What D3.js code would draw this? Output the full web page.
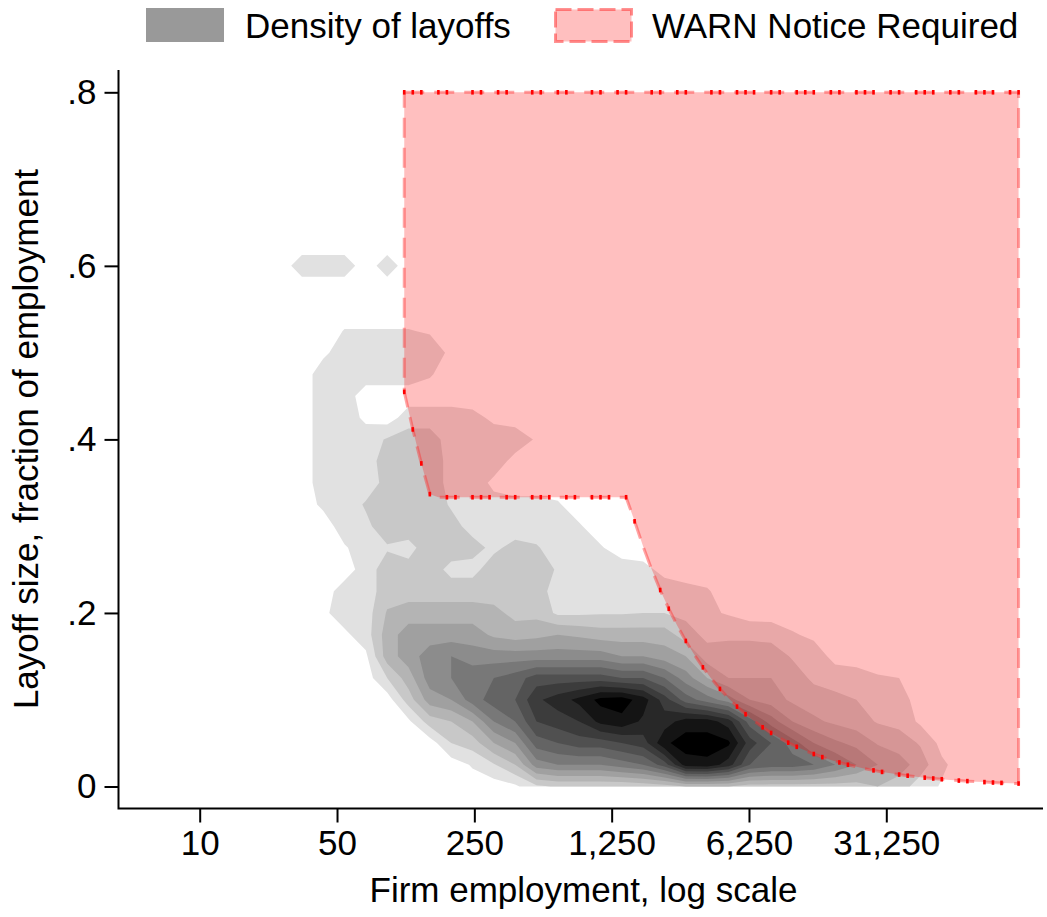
<!DOCTYPE html>
<html>
<head>
<meta charset="utf-8">
<script src="https://cdn.jsdelivr.net/npm/d3@7"></script>
<style>
  html, body { margin: 0; padding: 0; background: #ffffff; }
  svg { display: block; background: #ffffff; }
  text { font-family: "Liberation Sans", Arial, Helvetica, sans-serif; fill: #000; }
</style>
</head>
<body>
<svg id="chart" width="1047" height="917"></svg>
<script>
// ---------------- data ----------------
// density grid: columns are ln(firm employment), rows are layoff fraction
const densityLnEmployment = [3.25, 3.5, 3.75, 4, 4.25, 4.5, 4.75, 5, 5.25, 5.5, 5.75, 6, 6.25, 6.5, 6.75, 7, 7.25, 7.5, 7.75, 8, 8.25, 8.5, 8.75, 9, 9.25, 9.5, 9.75, 10, 10.25, 10.5, 10.75, 11, 11.25];
const densityFraction = [0, 0.025, 0.05, 0.075, 0.1, 0.125, 0.15, 0.175, 0.2, 0.225, 0.25, 0.275, 0.3, 0.325, 0.35, 0.375, 0.4, 0.425, 0.45, 0.475, 0.5, 0.525, 0.55, 0.575, 0.6, 0.625, 0.65];
// density level (0 = none ... 12 = darkest); rows listed from top (.65) to bottom (0); missing trailing values are 0
const densityLevelRows = [
  "",
  "",
  "0 1 1 1 0 1",
  "",
  "",
  "0 0 0 .55 .55 .55 .55 .4",
  "0 0 .3 1 1 1 1 1 .3",
  "0 0 1 1 1 1 1 .6",
  "0 0 1 1",
  "0 0 1 1 .3 0 1 1 1 .8 .3 .1",
  "0 0 1 1 1 1.6 2 2 1 1 1 1 .4",
  "0 0 1 1 1 2 2 2 1.2 1 1 .2",
  "0 0 1 1 1 1.8 2 2 1.2 1 .3",
  "0 0 .7 1 1.6 2 2 2 1.4 1 .8 .8 .8 .6",
  "0 0 0 1 1.3 2 2 2 1.8 1.2 1 1 1 1 .6",
  "0 0 0 .4 1 1.4 1.2 2 2 1.8 1.3 1.8 1.6 1 1 .6",
  "0 0 0 0 1 2 1.8 2 1.2 1.2 2 2 2 1.4 1 1 1 .8 .2",
  "0 0 0 1 1 2 2 2 2 2 2 2 2 1 1 1 1 1 1 .8 .6",
  "0 0 .3 1 1 2.6 3 3 3 3 2.8 2.2 2.2 1.3 1.3 1.4 1.4 1.5 1.5 1.2 .7 .4",
  "0 0 0 .3 1 3 4 4 4 4 3.3 3 3.2 3.5 3.3 3 3 3 3 2 1.2 1.3 1.3 1.2 .6 .3",
  "0 0 0 0 .3 3 4 5 5.5 5 5 5 5 5 5 5 4.5 4.5 4 3.5 2 2 2 2 1.4 1 .2",
  "0 0 0 0 0 1.5 3 5 5.5 6.2 6.5 7 8 8 8 8 7.5 7.5 6.5 5 3.5 2.5 2.5 2.5 2 1.3 1 1 .6 .5",
  "0 0 0 0 0 0 2 4 4.5 6 7 7.5 9.3 10 10.8 11.8 12 11 9 7 6 5 3.5 3 2.3 2 1.8 1.5 1.2 1",
  "0 0 0 0 0 0 .3 2 2.5 3.5 5.5 6.5 8.5 9 9.5 10.8 11.2 10.3 10 11 11 10 7 5 3.5 2.7 2.3 2 1.4 1.2 .3",
  "0 0 0 0 0 0 0 0 1.5 2 3.5 4.5 7 7.5 8 8 8.5 9 11.3 12 12 11.7 9 7.5 6 4.5 3.7 3.2 2.4 2 1.4 .2",
  "0 0 0 0 0 0 0 0 0 .6 1.4 2.5 5 5.5 5.5 5.5 6 6.5 8 11 11.2 10 7.5 7 7 6.5 5.5 4.5 3.5 3 2 .7",
  "0 0 0 0 0 0 0 0 0 0 0 .3 1.3 1.6 1.6 1.6 1.6 1.8 2 2.5 2.5 2.5 2 2 2 2 2 2 2.5 2 1 .4"
];
const densityThresholds = [0.5, 1.5, 2.5, 3.5, 4.5, 5.5, 6.5, 7.5, 8.5, 9.5, 10.5, 11.5];
const densityGrays = [225, 200, 180, 160, 140, 120, 100, 80, 60, 40, 20, 0];

const xTickValues = [10, 50, 250, 1250, 6250, 31250];
const yTickValues = [0, 0.2, 0.4, 0.6, 0.8];

// WARN rule: >= 500 laid off, or >= 50 laid off and >= 1/3 of employment
const warnLayoffMin = 50;
const warnShareMin = 1 / 3;
const warnLayoffAlways = 500;
const warnShareTop = 0.8;
const warnLnEmploymentStart = 4.7;
const warnLnEmploymentEnd = 11.9;
const warnLnEmploymentStep = 0.1;

const legendItems = ["Density of layoffs", "WARN Notice Required"];
const xTitle = "Firm employment, log scale";
const yTitle = "Layoff size, fraction of employment";

// ---------------- chart ----------------
const svg = d3.select("#chart");
const FONT = 35;

const x = d3.scaleLog().domain([10, 31250]).range([199.7, 886.3]);
const y = d3.scaleLinear().domain([0, 0.8]).range([786.5, 92.3]);

// density contours
const nCols = densityLnEmployment.length;
const nRows = densityFraction.length;
const rowsBottomUp = densityLevelRows.slice().reverse().map(r => {
  const v = r.trim() ? r.trim().split(/\s+/).map(Number) : [];
  while (v.length < nCols) v.push(0);
  return v;
});
const gridValues = new Array(nCols * nRows);
for (let j = 0; j < nRows; j++)
  for (let i = 0; i < nCols; i++) gridValues[j * nCols + i] = rowsBottomUp[j][i];

const contours = d3.contours().size([nCols, nRows]).thresholds(densityThresholds)(gridValues);

function gridInterp(arr, g) {
  const idx = Math.max(0, Math.min(arr.length - 1, g - 0.5));
  const i0 = Math.min(arr.length - 2, Math.floor(idx));
  const t = idx - i0;
  return arr[i0] + t * (arr[i0 + 1] - arr[i0]);
}
const gridProjection = d3.geoTransform({
  point(gx, gy) {
    this.stream.point(x(Math.exp(gridInterp(densityLnEmployment, gx))), y(gridInterp(densityFraction, gy)));
  }
});
const contourPath = d3.geoPath(gridProjection);

svg.append("g")
  .selectAll("path")
  .data(contours)
  .join("path")
  .attr("d", contourPath)
  .attr("fill", (d, k) => d3.rgb(densityGrays[k], densityGrays[k], densityGrays[k]).toString())
  .attr("stroke", "none");

// WARN region
function warnLower(E) {
  return Math.min(warnLayoffAlways / E, Math.max(warnLayoffMin / E, warnShareMin));
}
const warnLns = [];
for (let k = 0; ; k++) {
  const ln = warnLnEmploymentStart + k * warnLnEmploymentStep;
  if (ln > warnLnEmploymentEnd + 1e-9) break;
  warnLns.push(ln);
}
const topPts = warnLns.map(ln => [x(Math.exp(ln)), y(warnShareTop)]);
const lowPts = warnLns.slice().reverse().map(ln => {
  const E = Math.exp(ln);
  return [x(E), y(warnLower(E))];
});
const warnPoly = topPts.concat(lowPts);

svg.append("path")
  .attr("d", "M" + warnPoly.map(p => p.join(",")).join("L") + "Z")
  .attr("fill", "rgba(255,0,0,0.25)")
  .attr("stroke", "rgba(255,40,40,0.42)")
  .attr("stroke-width", 3)
  .attr("stroke-dasharray", "20,10");

// red vertex marks where the dashed outline is "on"
const dashOn = 20, dashPeriod = 30;
let s = 0;
const marks = [];
for (let k = 0; k < warnPoly.length; k++) {
  if (k > 0) s += Math.hypot(warnPoly[k][0] - warnPoly[k - 1][0], warnPoly[k][1] - warnPoly[k - 1][1]);
  if ((s % dashPeriod) < dashOn) marks.push(warnPoly[k]);
}
svg.append("g").selectAll("rect").data(marks).join("rect")
  .attr("x", d => d[0] - 1.3).attr("y", d => d[1] - 2.3)
  .attr("width", 2.6).attr("height", 4.6)
  .attr("fill", "#ff0000");

// axes
const axisColor = "#000";
svg.append("path")
  .attr("d", "M118.5,70V808.5H1043")
  .attr("fill", "none").attr("stroke", axisColor).attr("stroke-width", 2);

const gy = svg.append("g").attr("transform", "translate(118.5,0)")
  .call(d3.axisLeft(y).tickValues(yTickValues).tickSize(14).tickPadding(8)
    .tickFormat(d => d === 0 ? "0" : d3.format(".1f")(d).replace(/^0/, "")));
gy.select(".domain").remove();
gy.attr("font-size", FONT).attr("font-family", '"Liberation Sans", Arial, sans-serif');
gy.selectAll(".tick line").attr("stroke", axisColor).attr("stroke-width", 2);
gy.selectAll(".tick text").attr("fill", "#000");

const gx = svg.append("g").attr("transform", "translate(0,808.5)")
  .call(d3.axisBottom(x).tickValues(xTickValues).tickSize(14).tickPadding(7.5)
    .tickFormat(d3.format(",")));
gx.select(".domain").remove();
gx.attr("font-size", FONT).attr("font-family", '"Liberation Sans", Arial, sans-serif');
gx.selectAll(".tick line").attr("stroke", axisColor).attr("stroke-width", 2);
gx.selectAll(".tick text").attr("fill", "#000");

// titles
svg.append("text")
  .attr("x", 583.5).attr("y", 902)
  .attr("text-anchor", "middle").attr("font-size", FONT)
  .text(xTitle);
svg.append("text")
  .attr("transform", "translate(38,439) rotate(-90)")
  .attr("text-anchor", "middle").attr("font-size", FONT)
  .text(yTitle);

// legend
const legend = svg.append("g");
legend.append("rect").attr("x", 146).attr("y", 8).attr("width", 78).attr("height", 34).attr("fill", "#999999");
legend.append("text").attr("x", 245).attr("y", 38).attr("font-size", FONT).text(legendItems[0]);
legend.append("rect").attr("x", 555.5).attr("y", 9.5).attr("width", 76).attr("height", 32)
  .attr("fill", "#ffbfbf").attr("stroke", "rgba(255,40,40,0.5)").attr("stroke-width", 3)
  .attr("stroke-dasharray", "16,6");
legend.append("text").attr("x", 652).attr("y", 38).attr("font-size", FONT).text(legendItems[1]);
</script>
</body>
</html>
